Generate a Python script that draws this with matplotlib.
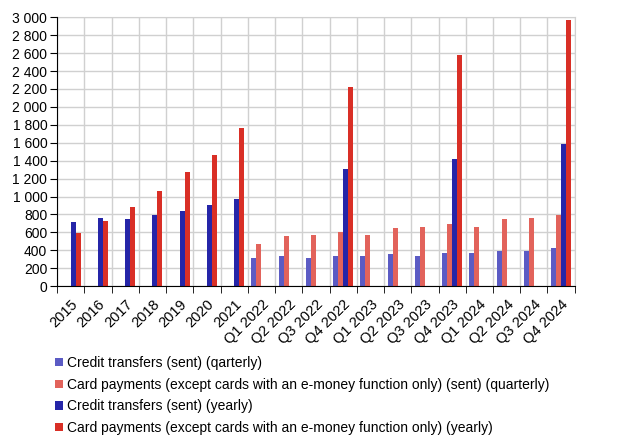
import matplotlib
matplotlib.use('Agg')
import matplotlib.pyplot as plt
import matplotlib.ticker as mticker
import numpy as np

plt.rcParams['font.family'] = ['Liberation Sans', 'DejaVu Sans']

periods = ['2015', '2016', '2017', '2018', '2019', '2020', '2021',
           'Q1 2022', 'Q2 2022', 'Q3 2022', 'Q4 2022',
           'Q1 2023', 'Q2 2023', 'Q3 2023', 'Q4 2023',
           'Q1 2024', 'Q2 2024', 'Q3 2024', 'Q4 2024']
nan = np.nan
credit_q = [nan] * 7 + [313, 335, 313, 335, 335, 357, 335, 368, 368, 391, 391, 424]
card_q = [nan] * 7 + [469, 558, 569, 603, 569, 648, 659, 692, 659, 748, 759, 793]
credit_y = [715, 759, 748, 793, 837, 904, 971,
            nan, nan, nan, 1306, nan, nan, nan, 1418, nan, nan, nan, 1586]
card_y = [592, 726, 882, 1061, 1273, 1463, 1764,
          nan, nan, nan, 2222, nan, nan, nan, 2579, nan, nan, nan, 2970]

labels = ['Credit transfers (sent) (qarterly)',
          'Card payments (except cards with an e-money function only) (sent) (quarterly)',
          'Credit transfers (sent) (yearly)',
          'Card payments (except cards with an e-money function only) (yearly)']
colors = ['#5b5bc4', '#e2635b', '#2525a8', '#d92f26']

fig = plt.figure(figsize=(6.2, 4.43), dpi=100)
ax = fig.add_axes([0.092, 0.354, 0.835, 0.607])

x = np.arange(len(periods))
w = 0.183
series = [credit_q, card_q, credit_y, card_y]
for i, (vals, lab, c) in enumerate(zip(series, labels, colors)):
    ax.bar(x + (i - 1.5) * w, vals, width=w, color=c, label=lab, zorder=3)

ax.set_xlim(-0.5, len(periods) - 0.5)
ax.set_ylim(0, 3000)
ax.yaxis.set_major_locator(mticker.MultipleLocator(200))
ax.yaxis.set_major_formatter(mticker.FuncFormatter(lambda v, p: f'{int(v):,}'.replace(',', ' ')))

ax.set_xticks(x)
ax.set_xticklabels(periods, rotation=45, ha='right', rotation_mode='anchor')
ax.set_xticks(np.arange(len(periods) + 1) - 0.5, minor=True)
ax.tick_params(axis='x', which='major', length=0, pad=8, labelsize=10.5)
ax.tick_params(axis='x', which='minor', length=5, color='black')
ax.tick_params(axis='y', length=5, labelsize=10, pad=2)

ax.grid(True, which='minor', axis='x', color='#d0d0d0', linewidth=1, zorder=0)
ax.grid(True, which='major', axis='y', color='#d0d0d0', linewidth=1, zorder=0)
for s in ['top', 'right']:
    ax.spines[s].set_color('#d0d0d0')
for s in ['left', 'bottom']:
    ax.spines[s].set_color('black')
    ax.spines[s].set_zorder(4)

fig.legend(loc='upper left', bbox_to_anchor=(0.078, 0.212), frameon=False,
           fontsize=10, handlelength=0.55, handleheight=0.55, handletextpad=0.3,
           labelspacing=0.55, borderpad=0)

fig.savefig('out.png', dpi=100)
